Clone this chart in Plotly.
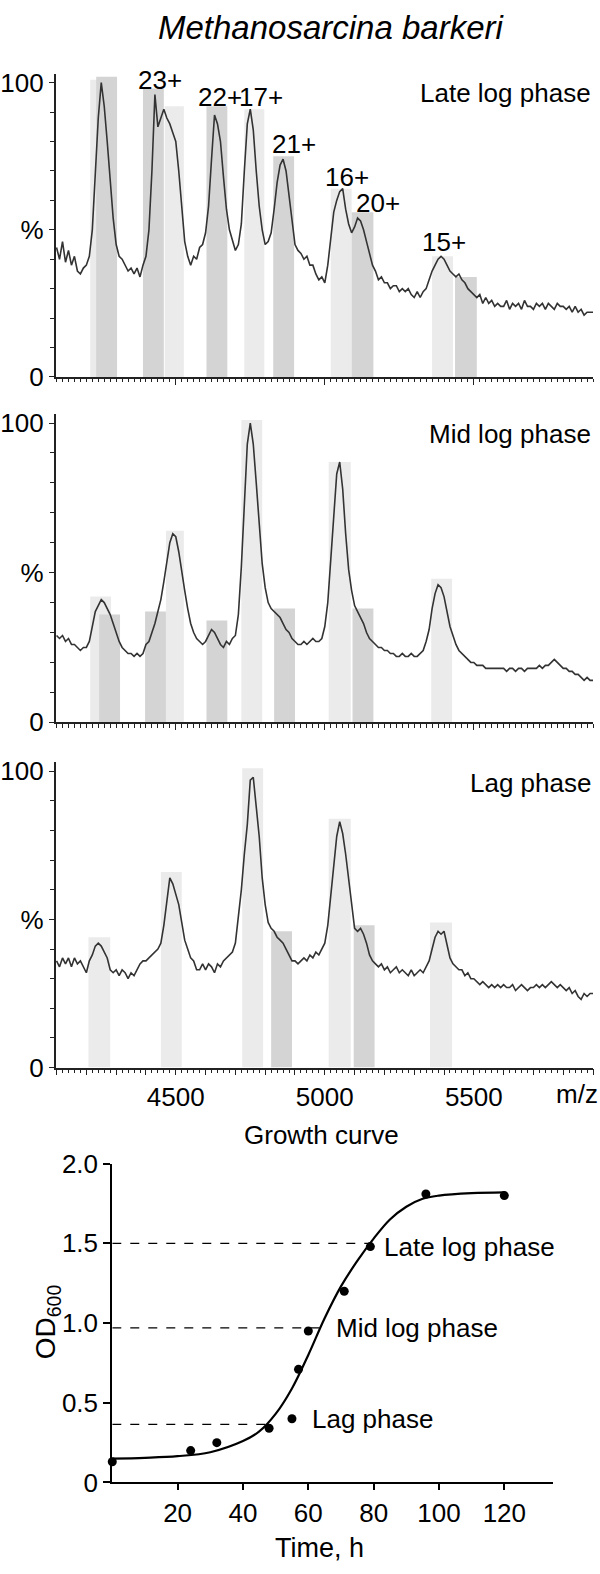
import plotly.graph_objects as go

W, H = 600, 1574

# m/z grid of the three spectra (10 Da steps)
mz = list(range(4100, 5901, 10))

# relative intensity, %
late_log = [
    44, 40, 46, 39, 43, 38, 41, 36, 35, 37,
    38, 41, 50, 68, 88, 100, 92, 80, 66, 54,
    45, 41, 40, 38, 36, 37, 35, 37, 34, 38,
    41, 50, 70, 96, 85, 88, 91, 88, 86, 83,
    80, 70, 58, 46, 41, 38, 41, 40, 44, 45,
    49, 58, 74, 89, 86, 80, 68, 57, 50, 46,
    43, 45, 52, 70, 86, 91, 84, 70, 58, 50,
    45, 46, 49, 57, 66, 72, 74, 70, 62, 52,
    45, 43, 42, 40, 41, 38, 38, 35, 33, 34,
    32, 38, 47, 56, 60, 63, 64, 57, 52, 49,
    51, 54, 53, 50, 46, 42, 38, 36, 33, 34,
    32, 32, 30, 31, 31, 29, 30, 29, 30, 28,
    27, 29, 27, 29, 30, 33, 36, 38, 40, 41,
    40, 38, 36, 35, 34, 35, 33, 32, 30, 29,
    28, 27, 28, 25, 27, 25, 26, 24, 25, 24,
    24, 26, 23, 25, 24, 25, 23, 26, 24, 24,
    23, 25, 24, 25, 23, 25, 24, 23, 25, 24,
    24, 23, 24, 22, 24, 22, 23, 21, 22, 22,
    22,
]
mid_log = [
    29, 28, 29, 27, 28, 26, 26, 25, 24, 25,
    25, 27, 32, 37, 39, 41, 40, 38, 36, 33,
    30, 27, 25, 24, 23, 23, 22, 23, 22, 23,
    26, 27, 30, 33, 37, 41, 47, 54, 60, 63,
    62, 57, 50, 44, 38, 33, 30, 28, 27, 26,
    27, 29, 31, 30, 28, 26, 25, 27, 26, 28,
    29, 36, 52, 75, 93, 100, 93, 80, 66, 53,
    45, 40, 38, 37, 36, 35, 33, 31, 30, 28,
    27, 26, 26, 27, 26, 27, 28, 27, 27, 28,
    32, 40, 54, 71, 83, 87, 78, 63, 51, 44,
    39, 37, 35, 33, 30, 28, 27, 26, 25, 25,
    24, 24, 23, 23, 22, 22, 23, 22, 22, 23,
    22, 22, 23, 24, 27, 31, 38, 43, 46, 45,
    42, 37, 32, 29, 26, 24, 23, 22, 21, 20,
    20, 19, 19, 19, 18, 18, 18, 18, 18, 18,
    18, 17, 18, 18, 17, 18, 18, 17, 18, 18,
    18, 18, 19, 18, 19, 19, 20, 21, 20, 19,
    18, 18, 17, 17, 16, 16, 15, 14, 15, 14,
    14,
]
lag = [
    36, 34, 37, 35, 37, 34, 37, 35, 36, 34,
    32, 36, 38, 41, 42, 41, 39, 37, 33, 32,
    33, 31, 33, 32, 30, 32, 31, 33, 35, 36,
    36, 37, 38, 39, 40, 42, 48, 56, 64, 62,
    58, 55, 49, 43, 40, 37, 36, 33, 33, 35,
    33, 35, 34, 32, 35, 34, 36, 37, 38, 39,
    42, 50, 60, 72, 82, 97, 98, 88, 78, 64,
    55, 49, 47, 46, 44, 43, 42, 40, 38, 36,
    36, 35, 36, 37, 36, 38, 37, 39, 38, 40,
    42, 48, 58, 69, 78, 83, 79, 72, 64, 54,
    47, 46, 47, 45, 42, 38, 36, 35, 34, 35,
    33, 34, 32, 33, 34, 32, 33, 32, 31, 33,
    31, 32, 33, 32, 34, 36, 40, 44, 46, 45,
    46, 41, 37, 35, 34, 33, 33, 31, 32, 30,
    30, 29, 28, 29, 28, 27, 28, 27, 28, 27,
    28, 27, 27, 28, 26, 27, 28, 27, 26, 27,
    27, 28, 27, 28, 27, 28, 29, 28, 27, 28,
    27, 26, 27, 25, 26, 24, 23, 25, 24, 25,
    25,
]

# shaded m/z windows: start, end, top (%), shade
late_box_start = [4213, 4233, 4390, 4463, 4603, 4730, 4827, 5020, 5090, 5360, 5437]
late_box_end = [4283, 4303, 4460, 4527, 4673, 4797, 4897, 5090, 5163, 5430, 5510]
late_box_top = [101, 102, 98, 92, 92, 91, 75, 64, 56, 41, 34]
late_box_shade = ["light", "dark", "dark", "light", "dark", "light", "dark", "light", "dark", "light", "dark"]

mid_box_start = [4213, 4243, 4397, 4467, 4603, 4720, 4830, 5013, 5093, 5357]
mid_box_end = [4283, 4313, 4467, 4527, 4673, 4790, 4900, 5087, 5163, 5427]
mid_box_top = [42, 36, 37, 64, 34, 101, 38, 87, 38, 48]
mid_box_shade = ["light", "dark", "dark", "light", "dark", "light", "dark", "light", "dark", "light"]

lag_box_start = [4207, 4450, 4723, 4820, 5013, 5097, 5353]
lag_box_end = [4280, 4520, 4793, 4890, 5087, 5167, 5427]
lag_box_top = [44, 66, 101, 46, 84, 48, 49]
lag_box_shade = ["light", "light", "light", "dark", "light", "dark", "light"]

# charge state labels of the late log spectrum
charge_text = ["23+", "22+", "17+", "21+", "16+", "20+", "15+"]
charge_mz = [4448, 4650, 4786, 4897, 5075, 5177, 5400]
charge_pct = [101, 95, 95, 79, 68, 59, 46]

spec_major_ticks = list(range(4100, 5901, 100))
spec_tick_labels = {4500: "4500", 5000: "5000", 5500: "5500"}

# growth curve
time_h = [0, 24, 32, 48, 55, 57, 60, 71, 79, 96, 120]
od600 = [0.13, 0.20, 0.25, 0.34, 0.40, 0.71, 0.95, 1.20, 1.48, 1.81, 1.80]
fit_time = [0, 10, 20, 30, 40, 45, 50, 55, 60, 65, 70, 75, 80, 85, 90, 95, 100, 110, 120]
fit_od = [0.15, 0.155, 0.165, 0.19, 0.26, 0.32, 0.43, 0.59, 0.80, 1.03, 1.23, 1.39, 1.53,
          1.65, 1.73, 1.78, 1.80, 1.815, 1.82]
phase_names = ["Late log phase", "Mid log phase", "Lag phase"]
phase_od = [1.50, 0.97, 0.365]
phase_time = [78.7, 64, 48]
phase_label_x = [82.5, 68, 60.5]
phase_label_y = [1.48, 0.97, 0.40]

FONT = "Liberation Sans, Arial, sans-serif"
INK = "#222222"
SHADES = {"light": "#ebebeb", "dark": "#d4d4d4"}


def py(px):
    return 1 - px / H


fig = go.Figure()
shapes = []
annotations = []

panels = [
    (late_log, late_box_start, late_box_end, late_box_top, late_box_shade, 369, 3.0, 80, "Late log phase"),
    (mid_log, mid_box_start, mid_box_end, mid_box_top, mid_box_shade, 721, 3.05, 427, "Mid log phase"),
    (lag, lag_box_start, lag_box_end, lag_box_top, lag_box_shade, 1073, 3.02, 783, "Lag phase"),
]

for i, (vals, bs, be, bt, bsh, zero_px, k, lab_px, name) in enumerate(panels):
    n = i + 1
    xa = "x" if n == 1 else "x%d" % n
    ya = "y" if n == 1 else "y%d" % n
    # light windows first, dark ones over them
    for shade in ["light", "dark"]:
        for s, e, t, sh in zip(bs, be, bt, bsh):
            if sh == shade:
                shapes.append(dict(type="rect", xref=xa, yref=ya, x0=s, x1=e, y0=0, y1=t,
                                   fillcolor=SHADES[sh], line_width=0, layer="below"))
    fig.add_trace(go.Scatter(x=mz, y=vals, mode="lines", line=dict(color="#333333", width=1.6),
                             xaxis=xa, yaxis=ya, hoverinfo="skip"))
    top_px = zero_px - 103 * k
    fig.update_layout(**{
        ("xaxis" if n == 1 else "xaxis%d" % n): dict(
            domain=[52 / W, 593 / W], range=[4097, 5900], anchor=ya,
            showline=True, linecolor=INK, linewidth=1.5, showgrid=False, zeroline=False,
            ticks="outside", ticklen=6, tickwidth=1.2, tickcolor=INK,
            tickmode="array", tickvals=spec_major_ticks,
            ticktext=[spec_tick_labels.get(v, "") for v in spec_major_ticks],
            showticklabels=(n == 3),
            minor=dict(ticks="outside", ticklen=3.5, tickwidth=1, tickcolor=INK, tick0=4100, dtick=20),
        ),
        ("yaxis" if n == 1 else "yaxis%d" % n): dict(
            domain=[py(zero_px), py(top_px)], range=[0, 103], anchor=xa,
            showline=True, linecolor=INK, linewidth=1.5, showgrid=False, zeroline=False,
            ticks="outside", ticklen=5, tickwidth=1.2, tickcolor=INK,
            tickmode="array", tickvals=[0, 50, 100], ticktext=["0", "%", "100"],
            minor=dict(ticks="outside", ticklen=4, tickwidth=1, tickcolor=INK, dtick=10),
        ),
    })
    annotations.append(dict(text=name, xref="paper", yref="paper", x=593 / W, y=py(lab_px),
                            xanchor="right", yanchor="middle", showarrow=False,
                            font=dict(size=26, color="black")))

for t, m, p in zip(charge_text, charge_mz, charge_pct):
    annotations.append(dict(text=t, xref="x", yref="y", x=m, y=p, xanchor="center", yanchor="middle",
                            showarrow=False, font=dict(size=26, color="black")))

annotations.append(dict(text="m/z", xref="paper", yref="paper", x=577 / W, y=py(1100),
                        xanchor="center", yanchor="middle", showarrow=False,
                        font=dict(size=26, color="black")))
annotations.append(dict(text="<i>Methanosarcina barkeri</i>", xref="paper", yref="paper",
                        x=330 / W, y=py(13), xanchor="center", yanchor="middle", showarrow=False,
                        font=dict(size=33, color="black")))

# growth curve panel
for name, od, t in zip(phase_names, phase_od, phase_time):
    fig.add_trace(go.Scatter(x=[0, t], y=[od, od], mode="lines", xaxis="x4", yaxis="y4",
                             line=dict(color="black", width=1.3, dash="dash"), hoverinfo="skip"))
fig.add_trace(go.Scatter(x=fit_time, y=fit_od, mode="lines", line=dict(color="black", width=2.2, shape="spline"),
                         xaxis="x4", yaxis="y4", hoverinfo="skip"))
fig.add_trace(go.Scatter(x=time_h, y=od600, mode="markers", marker=dict(color="black", size=9),
                         xaxis="x4", yaxis="y4", cliponaxis=False, hoverinfo="skip"))
for name, lx, ly in zip(phase_names, phase_label_x, phase_label_y):
    annotations.append(dict(text=name, xref="x4", yref="y4", x=lx, y=ly, xanchor="left", yanchor="middle",
                            showarrow=False, font=dict(size=26, color="black")))

annotations.append(dict(text="Growth curve", xref="paper", yref="paper", x=320 / W, y=py(1142),
                        xanchor="center", yanchor="middle", showarrow=False,
                        font=dict(size=26, color="black")))
annotations.append(dict(text="Time, h", xref="paper", yref="paper", x=318 / W, y=py(1563),
                        xanchor="center", yanchor="middle", showarrow=False,
                        font=dict(size=27, color="black")))
annotations.append(dict(text="OD<sub>600</sub>", xref="paper", yref="paper", x=44 / W, y=py(1332),
                        xanchor="center", yanchor="middle", textangle=-90, showarrow=False,
                        font=dict(size=28, color="black")))

fig.update_layout(
    xaxis4=dict(domain=[109 / W, 553 / W], range=[0, 135], anchor="y4",
                showline=True, linecolor="black", linewidth=2, showgrid=False, zeroline=False,
                ticks="outside", ticklen=6, tickwidth=1.5, tickcolor="black",
                tickmode="array", tickvals=[20, 40, 60, 80, 100, 120]),
    yaxis4=dict(domain=[py(1496), py(1171)], range=[0, 2.0], anchor="x4",
                showline=True, linecolor="black", linewidth=2, showgrid=False, zeroline=False,
                ticks="outside", ticklen=7, tickwidth=1.5, tickcolor="black",
                tickmode="array", tickvals=[0, 0.5, 1.0, 1.5, 2.0],
                ticktext=["0", "0.5", "1.0", "1.5", "2.0"]),
    width=W, height=H, margin=dict(l=0, r=0, t=0, b=0),
    paper_bgcolor="white", plot_bgcolor="white",
    font=dict(family=FONT, size=26, color="black"),
    showlegend=False, shapes=shapes, annotations=annotations,
)

# drop the default page margin so the figure fills the window exactly
fig.write_html("out.html", config={"displayModeBar": False},
               post_script="document.body.style.margin='0';document.body.style.overflow='hidden';")
